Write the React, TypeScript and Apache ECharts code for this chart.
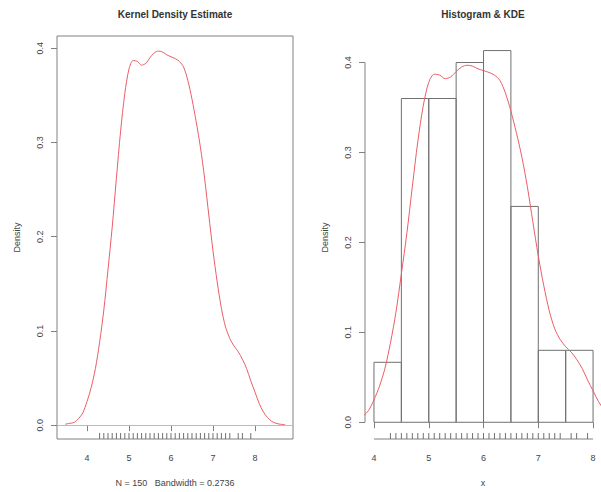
import React, { useEffect, useRef } from "react";
import * as echarts from "echarts";

// Kernel density estimate (x, density)
const kdeX = [3.48, 3.6, 3.7, 3.8, 3.9, 4.0, 4.1, 4.2, 4.3, 4.4, 4.5, 4.6, 4.7, 4.8, 4.9, 5.0, 5.1, 5.2, 5.3, 5.4, 5.5, 5.6, 5.7, 5.8, 5.9, 6.0, 6.1, 6.2, 6.3, 6.4, 6.5, 6.6, 6.7, 6.8, 6.9, 7.0, 7.1, 7.2, 7.3, 7.4, 7.5, 7.6, 7.7, 7.8, 7.9, 8.0, 8.1, 8.2, 8.3, 8.4, 8.5, 8.6, 8.72];
const kdeY = [0.001, 0.002, 0.003, 0.007, 0.013, 0.025, 0.04, 0.06, 0.088, 0.122, 0.165, 0.21, 0.262, 0.312, 0.352, 0.378, 0.387, 0.386, 0.382, 0.384, 0.39, 0.395, 0.397, 0.396, 0.393, 0.391, 0.389, 0.386, 0.38, 0.366, 0.346, 0.322, 0.295, 0.262, 0.223, 0.185, 0.152, 0.124, 0.104, 0.092, 0.084, 0.078, 0.07, 0.06, 0.047, 0.035, 0.023, 0.014, 0.008, 0.004, 0.002, 0.001, 0.0005];

// Rug marks (observed values)
const rugValues = [4.3, 4.4, 4.5, 4.6, 4.7, 4.8, 4.9, 5.0, 5.1, 5.2, 5.3, 5.4, 5.5, 5.6, 5.7, 5.8, 5.9, 6.0, 6.1, 6.2, 6.3, 6.4, 6.5, 6.6, 6.7, 6.8, 6.9, 7.0, 7.1, 7.2, 7.3, 7.4, 7.6, 7.7, 7.9];

// Histogram
const histBreaks = [4, 4.5, 5, 5.5, 6, 6.5, 7, 7.5, 8];
const histDensity = [0.0667, 0.36, 0.36, 0.4, 0.4133, 0.24, 0.08, 0.08];

// Ticks
const xTicks = [4, 5, 6, 7, 8];
const yTicks = [0, 0.1, 0.2, 0.3, 0.4];

// Texts
const titles = ["Kernel Density Estimate", "Histogram & KDE"];
const xNames = ["N = 150   Bandwidth = 0.2736", "x"];
const yName = "Density";

const FONT = "'Liberation Sans', Arial, Helvetica, sans-serif";
const RED = "#ea5d67";
const GRAY = "#808080";
const TEXT = "#333333";

export default function App() {
  const ref = useRef<HTMLDivElement>(null);

  useEffect(() => {
    if (!ref.current) return;
    const chart = echarts.init(ref.current, undefined, { renderer: "svg" });
    const kde = kdeX.map((x, i) => [x, kdeY[i]]);

    const mkX = (gi: number, min: number, max: number, name: string) => ({
      type: "value",
      gridIndex: gi,
      min,
      max,
      axisLine: { show: false },
      axisTick: { show: true, inside: false, length: 6, customValues: xTicks, lineStyle: { color: GRAY, width: 1 } },
      axisLabel: { customValues: xTicks, margin: 14, fontSize: 9, color: "#444", fontFamily: FONT, formatter: (v: number) => String(v) },
      splitLine: { show: false },
      name,
      nameLocation: "middle",
      nameGap: 39,
      nameTextStyle: { fontSize: 9, color: "#444", fontFamily: FONT },
    });
    const mkY = (gi: number, min: number, max: number) => ({
      type: "value",
      gridIndex: gi,
      min,
      max,
      axisLine: { show: false },
      axisTick: { show: true, inside: false, length: 6, customValues: yTicks, lineStyle: { color: GRAY, width: 1 } },
      axisLabel: { customValues: yTicks, rotate: 90, margin: 13, fontSize: 9, color: "#444", fontFamily: FONT, formatter: (v: number) => v.toFixed(1) },
      splitLine: { show: false },
      name: yName,
      nameLocation: "middle",
      nameRotate: 90,
      nameGap: 36,
      nameTextStyle: { fontSize: 9, color: "#444", fontFamily: FONT },
    });

    const rugSeries = (gi: number) => ({
      type: "custom",
      xAxisIndex: gi,
      yAxisIndex: gi,
      silent: true,
      clip: false,
      data: rugValues.map((v) => [v, 0]),
      encode: { x: 0, y: 1 },
      renderItem: (params: any, api: any) => {
        const x = api.coord([api.value(0), 0])[0];
        const cs = params.coordSys;
        const yb = cs.y + cs.height;
        return { type: "line", shape: { x1: x, y1: yb, x2: x, y2: yb - 6 }, style: { stroke: "#707070", lineWidth: 1 } };
      },
    });

    const option: any = {
      animation: false,
      backgroundColor: "#ffffff",
      graphic: [
        { type: "text", x: 175, y: 14, style: { text: titles[0], align: "center", verticalAlign: "middle", fontSize: 10, fontWeight: "bold", fontFamily: FONT, fill: TEXT } },
        { type: "text", x: 483, y: 14, style: { text: titles[1], align: "center", verticalAlign: "middle", fontSize: 10, fontWeight: "bold", fontFamily: FONT, fill: TEXT } },
      ],
      grid: [
        { left: 57, top: 36, width: 236, height: 408, show: true, borderColor: GRAY, borderWidth: 1, backgroundColor: "transparent" },
        { left: 365, top: 36, width: 237, height: 410, show: false },
      ],
      xAxis: [mkX(0, 3.2857, 8.905, xNames[0]), mkX(1, 3.836, 8.145, xNames[1])],
      yAxis: [mkY(0, -0.0147, 0.413), mkY(1, -0.0186, 0.4295)],
      series: [
        {
          type: "line",
          xAxisIndex: 0,
          yAxisIndex: 0,
          data: kde,
          smooth: 0.3,
          showSymbol: false,
          lineStyle: { color: RED, width: 1 },
          markLine: {
            silent: true,
            symbol: "none",
            label: { show: false },
            lineStyle: { color: "#bbbbbb", width: 1, type: "solid" },
            data: [{ yAxis: 0 }],
          },
        },
        rugSeries(0),
        {
          type: "custom",
          xAxisIndex: 1,
          yAxisIndex: 1,
          silent: true,
          data: histDensity.map((d, i) => [histBreaks[i], histBreaks[i + 1], d]),
          encode: { x: [0, 1], y: 2 },
          renderItem: (params: any, api: any) => {
            const p0 = api.coord([api.value(0), 0]);
            const p1 = api.coord([api.value(1), api.value(2)]);
            return {
              type: "rect",
              shape: { x: p0[0], y: p1[1], width: p1[0] - p0[0], height: p0[1] - p1[1] },
              style: { fill: "none", stroke: "#707070", lineWidth: 1 },
            };
          },
        },
        {
          type: "custom",
          xAxisIndex: 1,
          yAxisIndex: 1,
          silent: true,
          clip: false,
          data: [[xTicks[0], yTicks[0]]],
          encode: { x: 0, y: 1 },
          renderItem: (params: any, api: any) => {
            const cs = params.coordSys;
            const yb = cs.y + cs.height;
            const xa = api.coord([xTicks[0], yTicks[0]]);
            const xb = api.coord([xTicks[xTicks.length - 1], yTicks[yTicks.length - 1]]);
            return {
              type: "group",
              children: [
                { type: "line", shape: { x1: xa[0], y1: yb, x2: xb[0], y2: yb }, style: { stroke: GRAY, lineWidth: 1 } },
                { type: "line", shape: { x1: cs.x, y1: xa[1], x2: cs.x, y2: xb[1] }, style: { stroke: GRAY, lineWidth: 1 } },
              ],
            };
          },
        },
        {
          type: "line",
          xAxisIndex: 1,
          yAxisIndex: 1,
          data: kde,
          smooth: 0.3,
          showSymbol: false,
          clip: true,
          lineStyle: { color: RED, width: 1 },
        },
        rugSeries(1),
      ],
    };
    chart.setOption(option);
    return () => chart.dispose();
  }, []);

  return <div ref={ref} style={{ position: "absolute", left: 0, top: 0, width: 601, height: 492 }} />;
}
